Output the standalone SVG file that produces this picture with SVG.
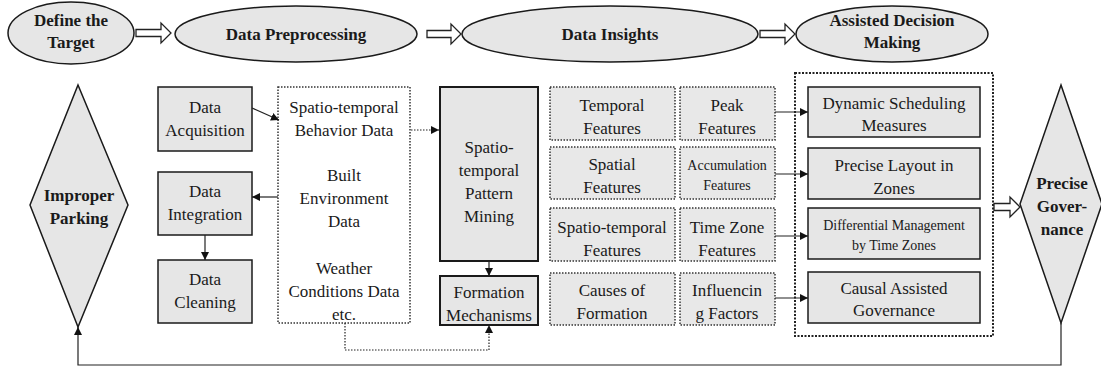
<svg xmlns="http://www.w3.org/2000/svg" width="1101" height="367" viewBox="0 0 1101 367" font-family="'Liberation Serif', 'Times New Roman', serif">
<style>
text{fill:#1a1a1a;text-anchor:middle}
.b{font-weight:bold;font-size:17px}
.t{font-size:17px}
.s{font-size:14px}
.g{fill:#e6e6e6;stroke:#1a1a1a;stroke-width:1.5}
.gt{fill:#e6e6e6;stroke:#1a1a1a;stroke-width:2}
.d{fill:#e8e8e8;stroke:#333;stroke-width:1.5;stroke-dasharray:1.5 1.5}
.dw{fill:#fff;stroke:#333;stroke-width:1.5;stroke-dasharray:1.5 1.5}
.dd{fill:none;stroke:#222;stroke-width:2;stroke-dasharray:2 1.5}
.c{fill:none;stroke:#222;stroke-width:1.2}
.cd{fill:none;stroke:#222;stroke-width:1.2;stroke-dasharray:1.5 1.5}
.h{fill:#fff;stroke:#222;stroke-width:1.3}
</style>
<defs>
<marker id="a" viewBox="0 0 10 10" refX="10" refY="5" markerWidth="8" markerHeight="8" markerUnits="userSpaceOnUse" orient="auto"><path d="M0,0L10,5L0,10z" fill="#111"/></marker>
</defs>

<g id="define-target"><ellipse class="g" cx="71" cy="33" rx="63" ry="31"/><text class="b" x="71" y="26">Define the</text><text class="b" x="71" y="48">Target</text></g>
<g id="data-preprocessing"><ellipse class="g" cx="296" cy="34" rx="121" ry="28"/><text class="b" x="296" y="40">Data Preprocessing</text></g>
<g id="data-insights"><ellipse class="g" cx="610" cy="34" rx="148" ry="28"/><text class="b" x="610" y="40">Data Insights</text></g>
<g id="assisted-decision"><ellipse class="g" cx="892" cy="34" rx="96" ry="28"/><text class="b" x="892" y="26">Assisted Decision</text><text class="b" x="892" y="48">Making</text></g>

<g id="improper-parking"><polygon class="g" points="78,85 128,205 78,327 30,205"/><text class="b" x="79" y="201">Improper</text><text class="b" x="79" y="224">Parking</text></g>

<g id="data-acquisition"><rect class="g" x="158" y="87" width="94" height="64"/><text class="t" x="205" y="113">Data</text><text class="t" x="205" y="136">Acquisition</text></g>
<g id="data-integration"><rect class="g" x="158" y="172" width="94" height="63"/><text class="t" x="205" y="197">Data</text><text class="t" x="205" y="220">Integration</text></g>
<g id="data-cleaning"><rect class="g" x="158" y="260" width="94" height="63"/><text class="t" x="205" y="285">Data</text><text class="t" x="205" y="308">Cleaning</text></g>

<g id="data-sources"><rect class="dw" x="278" y="87" width="132" height="236"/>
<text class="t" x="344" y="113">Spatio-temporal</text><text class="t" x="344" y="136">Behavior Data</text>
<text class="t" x="344" y="181">Built</text><text class="t" x="344" y="204">Environment</text><text class="t" x="344" y="227">Data</text>
<text class="t" x="344" y="274">Weather</text><text class="t" x="344" y="297">Conditions Data</text><text class="t" x="344" y="320">etc.</text></g>

<g id="pattern-mining"><rect class="gt" x="440" y="87" width="98" height="174"/><text class="t" x="489" y="153">Spatio-</text><text class="t" x="489" y="176">temporal</text><text class="t" x="489" y="199">Pattern</text><text class="t" x="489" y="222">Mining</text></g>
<g id="formation-mechanisms"><rect class="gt" x="440" y="276" width="98" height="49"/><text class="t" x="489" y="298">Formation</text><text class="t" x="489" y="321">Mechanisms</text></g>

<g id="temporal-features"><rect class="d" x="550" y="87" width="125" height="53"/><text class="t" x="612" y="111">Temporal</text><text class="t" x="612" y="134">Features</text></g>
<g id="spatial-features"><rect class="d" x="550" y="147" width="125" height="52"/><text class="t" x="612" y="170">Spatial</text><text class="t" x="612" y="193">Features</text></g>
<g id="st-features"><rect class="d" x="550" y="208" width="125" height="53"/><text class="t" x="612" y="233">Spatio-temporal</text><text class="t" x="612" y="256">Features</text></g>
<g id="causes"><rect class="d" x="550" y="273" width="125" height="52"/><text class="t" x="612" y="296">Causes of</text><text class="t" x="612" y="319">Formation</text></g>

<g id="peak-features"><rect class="d" x="680" y="87" width="95" height="53"/><text class="t" x="727" y="111">Peak</text><text class="t" x="727" y="134">Features</text></g>
<g id="accumulation-features"><rect class="d" x="680" y="147" width="95" height="52"/><text class="s" x="727" y="170">Accumulation</text><text class="s" x="727" y="190">Features</text></g>
<g id="timezone-features"><rect class="d" x="680" y="208" width="95" height="53"/><text class="t" x="727" y="233">Time Zone</text><text class="t" x="727" y="256">Features</text></g>
<g id="influencing-factors"><rect class="d" x="680" y="273" width="95" height="52"/><text class="t" x="727" y="296">Influencin</text><text class="t" x="727" y="319">g Factors</text></g>

<g id="decision-group"><rect class="dd" x="795" y="73" width="198" height="263"/></g>
<g id="dynamic-scheduling"><rect class="g" x="808" y="87" width="172" height="50"/><text class="t" x="894" y="109">Dynamic Scheduling</text><text class="t" x="894" y="131">Measures</text></g>
<g id="precise-layout"><rect class="g" x="808" y="148" width="172" height="51"/><text class="t" x="894" y="171">Precise Layout in</text><text class="t" x="894" y="194">Zones</text></g>
<g id="differential-management"><rect class="g" x="808" y="208" width="172" height="51"/><text class="s" x="894" y="230">Differential Management</text><text class="s" x="894" y="250">by Time Zones</text></g>
<g id="causal-governance"><rect class="g" x="808" y="272" width="172" height="51"/><text class="t" x="894" y="294">Causal Assisted</text><text class="t" x="894" y="316">Governance</text></g>

<g id="precise-governance"><polygon class="g" points="1061,85 1102,204 1061,323 1020,204"/><text class="b" x="1062" y="189">Precise</text><text class="b" x="1062" y="212">Gover-</text><text class="b" x="1062" y="235">nance</text></g>

<g id="connectors">
<path class="h" d="M136,29.5H161V23L171,33L161,43V36.5H136z"/>
<path class="h" d="M427,30.5H451V24L461,34L451,44V37.5H427z"/>
<path class="h" d="M760,30.5H785V24L795,34L785,44V37.5H760z"/>
<path class="h" d="M994,203.5H1010V197L1020,207L1010,217V210.5H994z"/>
<path class="c" d="M252,108L279,120" marker-end="url(#a)"/>
<path class="c" d="M278,197H252" marker-end="url(#a)"/>
<path class="c" d="M205,235V260" marker-end="url(#a)"/>
<path class="cd" d="M411,130H439" marker-end="url(#a)"/>
<path class="c" d="M489,261V276" marker-end="url(#a)"/>
<path class="cd" d="M345,323V350H489V325" marker-end="url(#a)"/>
<path class="c" d="M775,112H808" marker-end="url(#a)"/>
<path class="c" d="M775,174H808" marker-end="url(#a)"/>
<path class="c" d="M775,236H808" marker-end="url(#a)"/>
<path class="c" d="M775,298H808" marker-end="url(#a)"/>
<path class="c" d="M1061,323V365H78V327" marker-end="url(#a)"/>
</g>
</svg>
